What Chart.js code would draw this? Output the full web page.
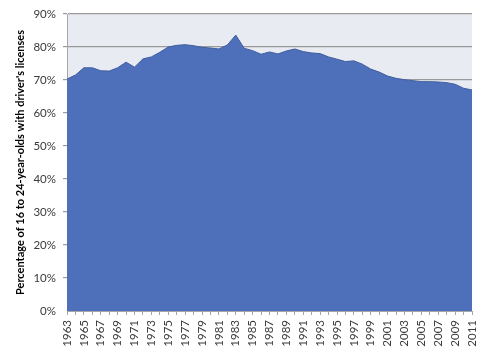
<!DOCTYPE html>
<html>
<head>
<meta charset="utf-8">
<script src="https://cdn.jsdelivr.net/npm/chart.js@4"></script>
<style>
  html, body { margin: 0; padding: 0; background: #ffffff; }
  #wrap { width: 500px; height: 354px; }
</style>
</head>
<body>
<div id="wrap"><canvas id="licenseChart" width="500" height="354"></canvas></div>
<script>
// years 1963..2011
const years = [];
for (let y = 1963; y <= 2011; y++) years.push(String(y));

// share of 16-24 year olds holding a licence (%)
const licensed = [
    70.3, 71.5, 73.7, 73.7, 72.8, 72.7, 73.7, 75.4, 73.9, 76.4,
    77.0, 78.4, 80.0, 80.5, 80.7, 80.4, 79.9, 79.7, 79.4, 80.6,
    83.6, 79.6, 78.9, 77.8, 78.5, 77.9, 78.8, 79.4, 78.6, 78.2,
    78.0, 77.0, 76.3, 75.6, 75.8, 74.8, 73.3, 72.4, 71.2, 70.5,
    70.1, 69.8, 69.5, 69.5, 69.4, 69.2, 68.7, 67.5, 67.0
];

const yTicks = [0, 10, 20, 30, 40, 50, 60, 70, 80, 90];

// light plot background like the original spreadsheet chart
const plotBg = {
    id: "plotBg",
    beforeDraw(chart) {
        const a = chart.chartArea;
        const ctx = chart.ctx;
        ctx.save();
        ctx.fillStyle = "#e9ebf2";
        ctx.fillRect(a.left, a.top, a.right - a.left, a.bottom - a.top);
        ctx.restore();
    }
};

const ctx = document.getElementById("licenseChart").getContext("2d");

new Chart(ctx, {
    type: "line",
    data: {
        labels: years,
        datasets: [{
            data: licensed,
            fill: "origin",
            backgroundColor: "#4e70ba",
            borderColor: "#3f5d9f",
            borderWidth: 1,
            pointRadius: 0,
            tension: 0,
        }],
    },
    options: {
        responsive: false,
        animation: false,
        layout: { padding: { top: 14, right: 28, left: 14, bottom: 0 } },
        plugins: {
            legend: { display: false },
            tooltip: { enabled: false },
        },
        scales: {
            x: {
                offset: false,
                grid: { drawOnChartArea: false, color: "#a6a6a6", tickLength: 4 },
                border: { color: "#a6a6a6" },
                ticks: {
                    autoSkip: false,
                    minRotation: 90,
                    maxRotation: 90,
                    padding: 5,
                    color: "#3a3a3a",
                    font: { family: "Lato, 'Liberation Sans', sans-serif", size: 11.5 },
                    callback: function (val, i) {
                        return i % 2 === 0 ? years[i] : "";
                    },
                },
                afterFit: function (scale) { scale.height = 43; },
            },
            y: {
                min: 0,
                max: 90,
                afterBuildTicks: function (scale) {
                    scale.ticks = yTicks.map(v => ({ value: v }));
                },
                grid: {
                    color: function (c) { return c.tick && c.tick.value === 0 ? "rgba(0,0,0,0)" : "#9a9a9a"; },
                    lineWidth: 1.2,
                    tickLength: 4,
                },
                border: { color: "#a6a6a6" },
                ticks: {
                    padding: 7,
                    color: "#3a3a3a",
                    font: { family: "Lato, 'Liberation Sans', sans-serif", size: 11.5 },
                    callback: v => v + "%",
                },
                title: {
                    display: true,
                    text: "Percentage of 16 to 24-year-olds with driver's licenses",
                    color: "#000000",
                    padding: { top: 0, bottom: 4 },
                    font: { family: "Lato, 'Liberation Sans', sans-serif", size: 11, weight: "bold" },
                },
                afterFit: function (scale) { scale.width = 53; },
            },
        },
    },
    plugins: [plotBg],
});
</script>
</body>
</html>
